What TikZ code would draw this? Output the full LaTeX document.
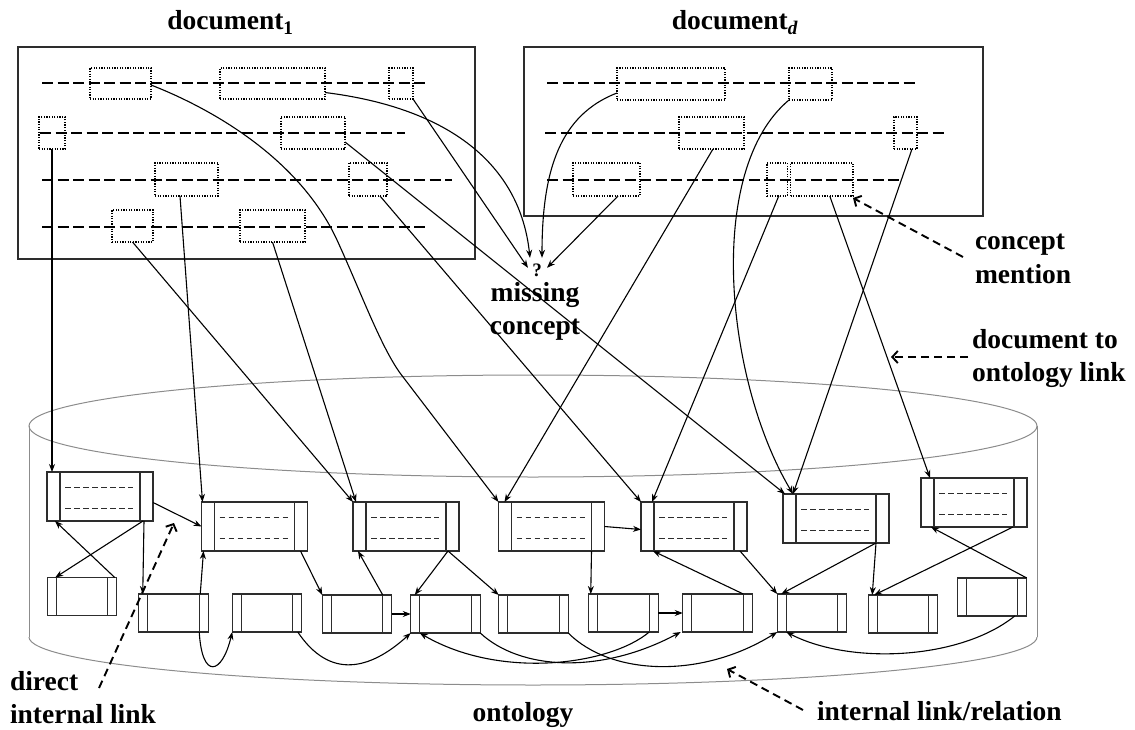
\documentclass[tikz,border=0pt]{standalone}
\usepackage{fontspec}
\setmainfont{Liberation Serif}
\usetikzlibrary{arrows.meta}

\definecolor{framegray}{RGB}{45,45,45}
\definecolor{cylgray}{RGB}{140,140,140}

\tikzset{
  lbl/.style={font=\fontsize{27.5}{33}\selectfont\bfseries, inner sep=0pt, outer sep=0pt},
  docframe/.style={draw=framegray, line width=1.5pt, inner sep=0pt, outer sep=0pt},
  textrow/.style={line width=1.4pt, dash pattern=on 11pt off 4.5pt},
  mention/.style={draw, line width=1.2pt, dash pattern=on 1.2pt off 1.4pt, inner sep=0pt, outer sep=0pt},
  concept/.style={draw=framegray, line width=1.2pt, inner sep=0pt, outer sep=0pt,
    minimum width=106, minimum height=49,
    path picture={
      \draw[framegray, line width=1.2pt]
        ([xshift=13pt]path picture bounding box.north west) -- ([xshift=13pt]path picture bounding box.south west)
        ([xshift=-13pt]path picture bounding box.north east) -- ([xshift=-13pt]path picture bounding box.south east);
      \draw[line width=1pt, dash pattern=on 5.5pt off 3.5pt]
        ([xshift=18pt,yshift=-15pt]path picture bounding box.north west) -- ([xshift=-20pt,yshift=-15pt]path picture bounding box.north east)
        ([xshift=18pt,yshift=13pt]path picture bounding box.south west) -- ([xshift=-20pt,yshift=13pt]path picture bounding box.south east);
    }},
  leaf/.style={draw=framegray, line width=1.2pt, inner sep=0pt, outer sep=0pt,
    minimum width=69.5, minimum height=38,
    path picture={
      \draw[framegray, line width=1.2pt]
        ([xshift=9pt]path picture bounding box.north west) -- ([xshift=9pt]path picture bounding box.south west)
        ([xshift=-9pt]path picture bounding box.north east) -- ([xshift=-9pt]path picture bounding box.south east);
    }},
  link/.style={line width=1.1pt, -{Stealth[length=8pt,width=6pt]}},
  callout/.style={line width=1.9pt, dash pattern=on 8pt off 5pt, -{Straight Barb[length=5.5pt,width=12pt]}},
  cylline/.style={draw=cylgray, line width=1pt},
}

% dotted mention box given by its corners
\newcommand\mentionat[5]{\node[mention, minimum width={#4-#2}, minimum height={#5-#3}] (#1) at ({(#2+#4)/2},{(#3+#5)/2}) {};}

\begin{document}
\begin{tikzpicture}[x=1pt, y=-1pt]
\useasboundingbox (0,0) rectangle (1135,730);

% ---------- ontology cylinder ----------
\draw[cylline] (533,426) ellipse [x radius=504, y radius=51];
\draw[cylline] (29,426) -- (29,637);
\draw[cylline] (1037,426) -- (1037,637);
\begin{scope}
  \clip (0,637) rectangle (1135,730);
  \draw[cylline] (533,637) ellipse [x radius=504, y radius=48];
\end{scope}

% ---------- documents ----------
\node[docframe, minimum width=457, minimum height=212] (doc1) at (246.5,153) {};
\node[docframe, minimum width=459, minimum height=169] (docd) at (753.5,131.5) {};

\node[lbl, anchor=base] (title1) at (230.5,30) {document\textsubscript{1}};
\node[lbl, anchor=base] (titled) at (735,30) {document\textsubscript{\textit{d}}};

% text lines of document 1
\draw[textrow] (42,83) -- (427,83);
\draw[textrow] (40,133) -- (405,133);
\draw[textrow] (42,180) -- (452,180);
\draw[textrow] (42,227) -- (427,227);
% text lines of document d
\draw[textrow] (547,83) -- (919,83);
\draw[textrow] (545,133) -- (946,133);
\draw[textrow] (547,180) -- (903,180);

% concept mentions in document 1
\mentionat{A}{90}{68}{151}{99}
\mentionat{B}{220}{68}{325}{99}
\mentionat{C}{389}{68}{413}{99}
\mentionat{D}{39}{117}{65}{149}
\mentionat{E}{281}{117}{345}{149}
\mentionat{F}{155}{163}{218}{196}
\mentionat{G}{349}{163}{387}{196}
\mentionat{H}{112}{210}{153}{242}
\mentionat{I}{240}{210}{305}{242}
% concept mentions in document d
\mentionat{J}{617}{68}{725}{100}
\mentionat{K}{789}{68}{832}{100}
\mentionat{L}{679}{117}{744}{149}
\mentionat{M}{894}{117}{917}{149}
\mentionat{N}{573}{163}{640}{196}
\mentionat{O}{767}{163}{787.5}{196}
\mentionat{P}{790.5}{163}{853}{196}

% ---------- ontology concepts ----------
\node[concept] (b1) at (100,496.5) {};
\node[concept] (b2) at (254.5,526.5) {};
\node[concept] (b3) at (406,526.5) {};
\node[concept] (b4) at (551.5,526.5) {};
\node[concept] (b5) at (694,526.5) {};
\node[concept] (b6) at (836,518.5) {};
\node[concept] (b7) at (974,502.5) {};

\node[leaf] (s1) at (82,596.5) {};
\node[leaf] (s2) at (173.5,613) {};
\node[leaf] (s3) at (267,613) {};
\node[leaf] (s4) at (357,614) {};
\node[leaf] (s5) at (445.5,614) {};
\node[leaf] (s6) at (533.5,614) {};
\node[leaf] (s7) at (623.5,613) {};
\node[leaf] (s8) at (717.5,613) {};
\node[leaf] (s9) at (812,613) {};
\node[leaf] (s10) at (903,614) {};
\node[leaf] (s11) at (992,597) {};

% ---------- missing concept ----------
\node[font=\fontsize{19}{22}\selectfont\bfseries, inner sep=0pt, anchor=base] (q) at (537,276) {?};
\node[lbl, align=center, anchor=base] (missing) at (535,334) {missing\\concept};

\draw[link] ([yshift=-9pt]B.east) .. controls (450,108) and (520,165) .. ([xshift=-7pt,yshift=12pt]q.center);
\draw[link] (C.south east) -- ([xshift=-9pt,yshift=2pt]q.center);
\draw[link] ([yshift=-9pt]J.west) .. controls (560,115) and (542,170) .. ([xshift=5pt,yshift=12pt]q.center);
\draw[link] ([xshift=11.5pt]N.south) -- ([xshift=10pt,yshift=2pt]q.center);

% ---------- document to ontology links ----------
\draw[link] (D.south) -- ([xshift=5pt]b1.north west);
\draw[link] ([xshift=-6.5pt]F.south) -- ([xshift=1pt]b2.north west);
\draw[link] (H.south) -- (b3.north west);
\draw[link] (I.south) -- ([xshift=3pt]b3.north west);
\draw[link] ([yshift=-1.5pt]A.east) .. controls (215,110) and (300,160) .. (337,240)
  .. controls (360,290) and (380,345) .. (400,373) -- (b4.north west);
\draw[link] ([xshift=1.5pt]L.south) -- ([xshift=6pt]b4.north west);
\draw[link] ([xshift=-7pt]G.south east) -- (b5.north west);
\draw[link] ([xshift=1.5pt]O.south) -- ([xshift=11pt]b5.north west);
\draw[link] ([yshift=7pt]E.south east) -- ([xshift=2pt]b6.north west);
\draw[link] (K.south west) .. controls (705,170) and (725,380) .. ([xshift=10pt]b6.north west);
\draw[link] ([xshift=-5pt]M.south east) -- ([xshift=10pt]b6.north west);
\draw[link] ([xshift=8pt]P.south) -- ([xshift=9pt]b7.north west);

% ---------- internal links ----------
\draw[link] ([yshift=-6pt]b1.east) -- (b2.west);
\draw[link] ([xshift=-10pt]b1.south east) -- ([xshift=8pt]s1.north west);
\draw[link] ([xshift=-2pt]s1.north east) -- ([xshift=8pt]b1.south west);
\draw[link] ([xshift=-9pt]b1.south east) -- ([xshift=4pt]s2.north west);
\draw[link] ([xshift=-8pt]s2.north east) -- ([xshift=2pt]b2.south west);
\draw[link] ([xshift=-9pt]s2.south east) .. controls (202,680) and (222,675) .. (s3.south west);
\draw[link] ([xshift=-4pt]s3.south east) .. controls (330,680) and (370,670) .. (s5.south west);
\draw[link] ([xshift=-7pt]b2.south east) -- (s4.north west);
\draw[link] ([xshift=-9pt]s4.north east) -- ([xshift=5pt]b3.south west);
\draw[link] (s4.east) -- (s5.west);
\draw[link] ([xshift=-11pt]b3.south east) -- ([xshift=4pt]s5.north west);
\draw[link] ([xshift=-11pt]b3.south east) -- (s6.north west);
\draw[link] (b4.east) -- ([yshift=-3pt]b5.west);
\draw[link] ([xshift=-13pt]b4.south east) -- ([xshift=2pt]s7.north west);
\draw[link] (s7.east) -- (s8.west);
\draw[link] ([xshift=-9pt]s8.north east) -- ([xshift=12pt]b5.south west);
\draw[link] ([xshift=-7pt]b5.south east) -- (s9.north west);
\draw[link] ([xshift=-13pt]b6.south east) -- ([xshift=4pt]s9.north west);
\draw[link] ([xshift=-13pt]b6.south east) -- ([xshift=4pt]s10.north west);
\draw[link] ([xshift=-14pt]b7.south east) -- ([xshift=6pt]s10.north west);
\draw[link] (s11.north east) -- ([xshift=10pt]b7.south west);
\draw[link] ([xshift=-12pt]s11.south east) .. controls (960,660) and (850,665) .. ([xshift=9pt]s9.south west);
\draw[link] (s5.south east) .. controls (520,670) and (600,675) .. ([xshift=-2pt]s8.south west);
\draw[link] ([xshift=-9pt]s7.south east) .. controls (610,665) and (500,680) .. ([xshift=9pt]s5.south west);
\draw[link] (s6.south east) .. controls (610,675) and (700,680) .. (s9.south west);

% ---------- annotations ----------
\node[lbl, align=left, anchor=base west] (mentionlbl) at (975,283) {concept\\mention};
\node[lbl, align=left, anchor=base west] (doclinklbl) at (972,381) {document to\\ontology link};
\node[lbl, align=left, anchor=base west] (directlbl) at (10,723) {direct\\internal link};
\node[lbl, anchor=base] (ontologylbl) at (523,721) {ontology};
\node[lbl, anchor=base west] (relationlbl) at (817,720) {internal link/relation};

\coordinate (mentiontail) at (963,257);
\coordinate (doclinktail) at (968,357);
\coordinate (doclinktip) at (891,357);
\coordinate (directtail) at (99,688);
\coordinate (directtip) at (174,523);
\coordinate (relationtail) at (803,710);
\coordinate (relationtip) at (727,669);

\draw[callout] (mentiontail) -- ([yshift=-2pt]P.south east);
\draw[callout] (doclinktail) -- (doclinktip);
\draw[callout] (directtail) -- (directtip);
\draw[callout] (relationtail) -- (relationtip);
\end{tikzpicture}
\end{document}
